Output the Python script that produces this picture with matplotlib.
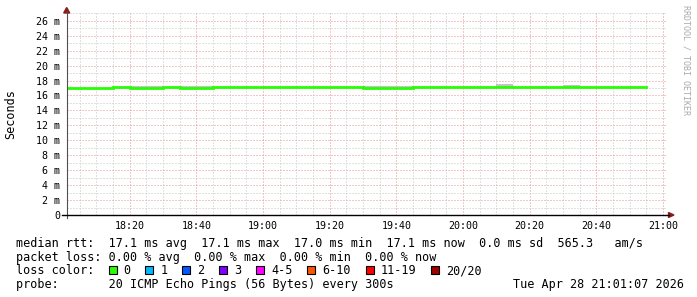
import matplotlib
matplotlib.use("Agg")
import matplotlib.pyplot as plt
from matplotlib.patches import Rectangle, Polygon
from matplotlib.lines import Line2D

W, H = 697, 297
MONO = "DejaVu Sans Mono"

# data: median rtt segments (ms) and top of the smoke band, 5-min RRD steps
seg_start = ["18:00", "18:15", "18:20", "18:30", "18:35", "18:45", "19:30",
             "19:45", "20:10", "20:15", "20:30", "20:35"]
seg_end = "20:55"
median_ms = [16.97, 17.10, 17.03, 17.10, 17.03, 17.10, 17.03,
             17.10, 17.10, 17.10, 17.10, 17.10]
smoke_top = [16.97, 17.10, 17.28, 17.10, 17.28, 17.10, 17.28,
             17.10, 17.52, 17.10, 17.40, 17.10]

x_ticks = ["18:20", "18:40", "19:00", "19:20", "19:40", "20:00", "20:20", "20:40", "21:00"]
y_ticks = [0, 2, 4, 6, 8, 10, 12, 14, 16, 18, 20, 22, 24, 26]

loss_labels = ["0", "1", "2", "3", "4-5", "6-10", "11-19", "20/20"]
loss_colors = ["#26ff00", "#00b8ff", "#0059ff", "#7e00ff", "#ff00ff",
               "#ff5500", "#ff0000", "#a00000"]

row_rtt = "median rtt:  17.1 ms avg  17.1 ms max  17.0 ms min  17.1 ms now  0.0 ms sd  565.3   am/s"
row_loss = "packet loss: 0.00 % avg  0.00 % max  0.00 % min  0.00 % now"
row_probe = "probe:       20 ICMP Echo Pings (56 Bytes) every 300s"
stamp = "Tue Apr 28 21:01:07 2026"


def mins(t):
    h, m = t.split(":")
    return (int(h) - 18) * 60 + int(m)


def fx(x):
    return x / W


def fy(y):
    return 1 - y / H


fig = plt.figure(figsize=(W / 100, H / 100), dpi=100, facecolor="white")
ax = fig.add_axes([fx(66.7), fy(215), 600 / W, (215 - 13.3) / H])

t0 = 1 + 7 / 60
ax.set_xlim(t0, t0 + 180)
ax.set_ylim(0, 27)

# grid
ax.set_xticks([mins(t) for t in x_ticks])
ax.set_xticklabels(x_ticks, fontfamily=MONO, fontsize=7.2)
ax.set_xticks([m for m in range(5, 185, 5)], minor=True)
ax.set_yticks(y_ticks)
ax.set_yticklabels([f"{v} m" if v else "0" for v in y_ticks], fontfamily=MONO, fontsize=7.2)
ax.set_yticks(range(1, 28), minor=True)
ax.tick_params(which="both", length=0)
ax.tick_params(axis="x", pad=4)
ax.tick_params(axis="y", pad=4.5)
ax.grid(which="minor", color="#c4c4c4", linewidth=0.72, linestyle=(0, (1, 2)))
ax.grid(which="major", color="#e69090", linewidth=0.72, linestyle=(0, (1, 2)))
ax.set_axisbelow(True)
for s in ax.spines.values():
    s.set_visible(False)

# smoke + median
xs = [mins(t) for t in seg_start] + [mins(seg_end)]
ax.fill_between(xs, median_ms + [median_ms[-1]], smoke_top + [smoke_top[-1]],
                step="post", color="#c4c4c4", linewidth=0, zorder=2)
ax.step(xs, median_ms + [median_ms[-1]], where="post", color="#26ff00",
        linewidth=2.0, zorder=3, solid_joinstyle="miter")

# axes lines and arrows
fig.add_artist(Line2D([fx(66.7), fx(66.7)], [fy(218), fy(11)], color="#505050", linewidth=0.8))
fig.add_artist(Line2D([fx(62), fx(669)], [fy(215), fy(215)], color="black", linewidth=1.0))
fig.add_artist(Polygon([[fx(63.7), fy(13)], [fx(69.7), fy(13)], [fx(66.7), fy(7.5)]],
                       closed=True, color="#8b1c1c", transform=fig.transFigure))
fig.add_artist(Polygon([[fx(668.5), fy(212.5)], [fx(668.5), fy(217.5)], [fx(674), fy(215)]],
                       closed=True, color="#8b1c1c", transform=fig.transFigure))

fig.text(fx(10.5), fy(114), "Seconds", rotation=90, ha="center", va="center",
         fontfamily=MONO, fontsize=8.5)
fig.text(fx(686), fy(5), "RRDTOOL / TOBI OETIKER", rotation=270, ha="center", va="top",
         fontfamily=MONO, fontsize=6.0, color="#aaaaaa")

# legend rows
fs = 8.5
fig.text(fx(16), fy(246.5), row_rtt, fontfamily=MONO, fontsize=fs, va="baseline")
fig.text(fx(16), fy(260.5), row_loss, fontfamily=MONO, fontsize=fs, va="baseline")
fig.text(fx(16), fy(274.3), "loss color:", fontfamily=MONO, fontsize=fs, va="baseline")
fig.text(fx(16), fy(288.3), row_probe, fontfamily=MONO, fontsize=fs, va="baseline")
fig.text(fx(513), fy(288.3), stamp, fontfamily=MONO, fontsize=fs, va="baseline")

cw = 7.115
bx = 108.5
for lab, col in zip(loss_labels, loss_colors):
    fig.add_artist(Rectangle((fx(bx), fy(273.5)), 8 / W, 8 / H, facecolor=col,
                             edgecolor="black", linewidth=0.8, transform=fig.transFigure))
    fig.text(fx(bx + 15), fy(274.3), lab, fontfamily=MONO, fontsize=fs, va="baseline")
    bx = bx + 15 + len(lab) * cw + 14.8

fig.savefig("out.png", dpi=100, facecolor="white")
